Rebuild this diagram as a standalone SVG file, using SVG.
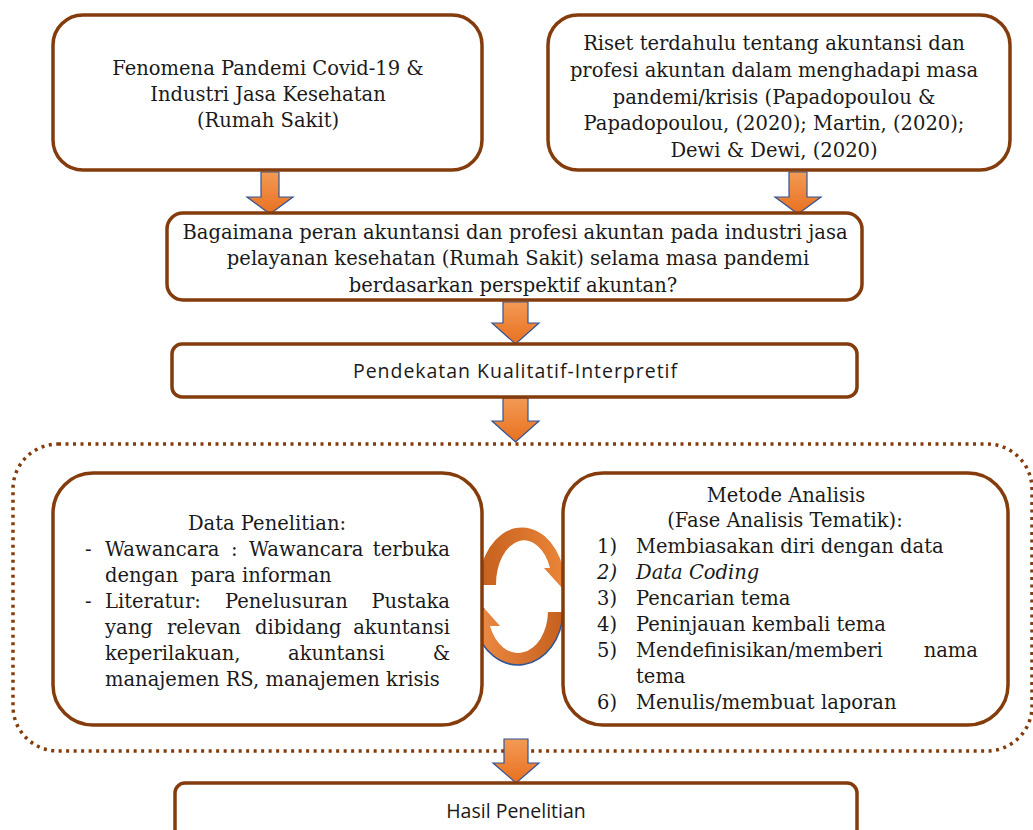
<svg xmlns="http://www.w3.org/2000/svg" width="1033" height="830" viewBox="0 0 1033 830">
<defs>
<style>
.box{fill:#fff;stroke:#843C0C;stroke-width:3.5}
.dot{fill:none;stroke:#843C0C;stroke-width:3.5;stroke-dasharray:3 4.5}
.sr{font-family:"DejaVu Serif","Liberation Serif",serif;font-size:19.5px;fill:#1a1a1a}
.ss{font-family:"Open Sans","Liberation Sans",sans-serif;font-size:19.5px;fill:#1a1a1a}
.c{text-anchor:middle}
.e{text-anchor:end}
.arr{fill:url(#og);stroke:#2F5597;stroke-width:1.2}
</style>
<linearGradient id="og" x1="0" y1="0" x2="0" y2="1">
<stop offset="0" stop-color="#F39A55"/>
<stop offset="1" stop-color="#E8701F"/>
</linearGradient>
<linearGradient id="ug" x1="0" y1="0" x2="1" y2="0">
<stop offset="0" stop-color="#C5601E"/>
<stop offset="1" stop-color="#F08A3C"/>
</linearGradient>
<linearGradient id="lg" x1="0" y1="0" x2="1" y2="0">
<stop offset="0" stop-color="#F29048"/>
<stop offset="1" stop-color="#C5601E"/>
</linearGradient>
</defs>
<rect width="1033" height="830" fill="#fff"/>

<g id="connectors">
<path class="arr" d="M261,172H279V197H293L270,214L247,197H261Z"/>
<path class="arr" d="M789,172H807V197H821L798,214L775,197H789Z"/>
<path class="arr" d="M503,302H528V323H539L515.5,344L492,323H503Z"/>
<path class="arr" d="M503,398H528V421H539L515.5,442L492,421H503Z"/>
<g id="cycle">
<path d="M479,585 A43,58 0 0 1 563,568 L576,568 L562,588 L544,568 L550,568 A28,44 0 0 0 496,585 Z" fill="url(#ug)"/>
<path d="M563,612 A45,55 0 0 1 475,626 L466,626 L484,608 L500,626 L490,626 A30,42 0 0 0 548,612 Z" fill="url(#lg)"/>
<path d="M563,612 A45,55 0 0 1 475,626 L466,626 L484,608" fill="none" stroke="#2F5597" stroke-width="1.5"/>
</g>
</g>

<g id="n1">
<rect class="box" x="53" y="15" width="429" height="155" rx="30"/>
<text class="sr c" x="268" y="75">Fenomena Pandemi Covid-19 &amp;</text>
<text class="sr c" x="268" y="101">Industri Jasa Kesehatan</text>
<text class="sr c" x="268" y="127">(Rumah Sakit)</text>
</g>

<g id="n2">
<rect class="box" x="548" y="15" width="462" height="155" rx="30"/>
<text class="sr c" x="774" y="50">Riset terdahulu tentang akuntansi dan</text>
<text class="sr c" x="774" y="77">profesi akuntan dalam menghadapi masa</text>
<text class="sr c" x="774" y="104">pandemi/krisis (Papadopoulou &amp;</text>
<text class="sr c" x="774" y="130">Papadopoulou, (2020); Martin, (2020);</text>
<text class="sr c" x="774" y="157">Dewi &amp; Dewi, (2020)</text>
</g>

<g id="n3">
<rect class="box" x="167" y="213" width="695" height="87" rx="16"/>
<text class="sr c" x="515" y="239">Bagaimana peran akuntansi dan profesi akuntan pada industri jasa</text>
<text class="sr c" x="518" y="265">pelayanan kesehatan (Rumah Sakit) selama masa pandemi</text>
<text class="sr c" x="513" y="292">berdasarkan perspektif akuntan?</text>
</g>

<g id="n4">
<rect class="box" x="172" y="344" width="685" height="53" rx="10"/>
<text class="ss" x="353" y="378" font-size="20.5" textLength="324" lengthAdjust="spacing">Pendekatan Kualitatif-Interpretif</text>
</g>

<rect id="group" class="dot" x="13" y="444" width="1019" height="307" rx="45"/>

<g id="n5">
<rect class="box" x="53" y="473" width="429" height="252" rx="40"/>
<text class="sr c" x="267" y="530">Data Penelitian:</text>
<text class="sr" x="85" y="556">-</text>
<text class="sr" y="556"><tspan x="105">Wawancara</tspan><tspan x="231">:</tspan><tspan x="249">Wawancara</tspan><tspan x="450" class="e">terbuka</tspan></text>
<text class="sr" x="105" y="582" xml:space="preserve">dengan  para informan</text>
<text class="sr" x="85" y="608">-</text>
<text class="sr" y="608"><tspan x="105">Literatur:</tspan><tspan x="225">Penelusuran</tspan></text>
<text class="sr e" x="450" y="608">Pustaka</text>
<text class="sr" y="634"><tspan x="105">yang</tspan><tspan x="167">relevan</tspan><tspan x="255">dibidang</tspan></text>
<text class="sr e" x="450" y="634">akuntansi</text>
<text class="sr" y="660"><tspan x="105">keperilakuan,</tspan><tspan x="288">akuntansi</tspan></text>
<text class="sr e" x="450" y="660">&amp;</text>
<text class="sr" x="105" y="686">manajemen RS, manajemen krisis</text>
</g>

<g id="n6">
<rect class="box" x="563" y="473" width="445" height="252" rx="40"/>
<text class="sr c" x="786" y="502">Metode Analisis</text>
<text class="sr c" x="785" y="527">(Fase Analisis Tematik):</text>
<text class="sr" x="597" y="553">1)</text>
<text class="sr" x="636" y="553">Membiasakan diri dengan data</text>
<text class="sr" x="597" y="579" font-style="italic">2)</text>
<text class="sr" x="636" y="579" font-style="italic">Data Coding</text>
<text class="sr" x="597" y="605">3)</text>
<text class="sr" x="636" y="605">Pencarian tema</text>
<text class="sr" x="597" y="631">4)</text>
<text class="sr" x="636" y="631">Peninjauan kembali tema</text>
<text class="sr" x="597" y="657">5)</text>
<text class="sr" x="636" y="657">Mendefinisikan/memberi</text>
<text class="sr e" x="978" y="657">nama</text>
<text class="sr" x="636" y="683">tema</text>
<text class="sr" x="597" y="709">6)</text>
<text class="sr" x="636" y="709">Menulis/membuat laporan</text>
</g>

<path class="arr" d="M504,739H528V763H539L516,783L493,763H504Z"/>

<g id="n7">
<rect class="box" x="175" y="783" width="682" height="70" rx="10"/>
<text class="ss c" x="516" y="818">Hasil Penelitian</text>
</g>
</svg>
